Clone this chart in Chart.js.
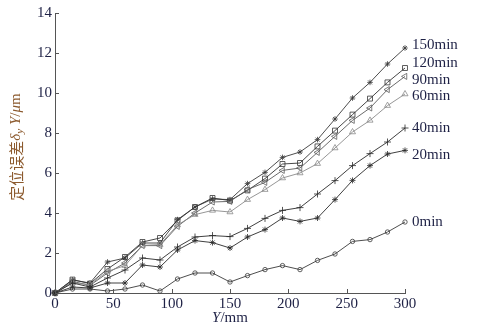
<!DOCTYPE html>
<html>
<head>
<meta charset="utf-8">
<script src="https://cdn.jsdelivr.net/npm/chart.js@4.4.0/dist/chart.umd.min.js"></script>
<style>
  html, body { margin: 0; padding: 0; background: #fff; }
  #wrap { width: 479px; height: 332px; }
</style>
</head>
<body>
<div id="wrap"><canvas id="myChart" width="479" height="332"></canvas></div>
<script>
// positions along Y (mm), one point every 15 mm
var xValues = [0, 15, 30, 45, 60, 75, 90, 105, 120, 135, 150, 165, 180, 195, 210, 225, 240, 255, 270, 285, 300];

var seriesNames = ["0min", "20min", "40min", "60min", "90min", "120min", "150min"];

var min0   = [0, 0.2, 0.2, 0.1, 0.2, 0.4, 0.1, 0.7, 1.0, 1.0, 0.55, 0.87, 1.17, 1.37, 1.17, 1.63, 1.95, 2.58, 2.67, 3.05, 3.55];
var min20  = [0, 0.3, 0.25, 0.5, 0.5, 1.4, 1.3, 2.15, 2.62, 2.52, 2.25, 2.8, 3.17, 3.75, 3.58, 3.75, 4.67, 5.63, 6.37, 6.95, 7.13];
var min40  = [0, 0.5, 0.3, 0.75, 1.15, 1.75, 1.65, 2.3, 2.8, 2.87, 2.82, 3.23, 3.73, 4.13, 4.27, 4.95, 5.62, 6.37, 6.97, 7.55, 8.25];
var min60  = [0, 0.5, 0.42, 1.08, 1.37, 2.38, 2.42, 3.4, 3.92, 4.13, 4.05, 4.67, 5.17, 5.75, 6.0, 6.47, 7.25, 8.05, 8.63, 9.37, 9.95];
var min90  = [0, 0.58, 0.38, 1.0, 1.5, 2.37, 2.37, 3.33, 4.0, 4.55, 4.58, 5.17, 5.53, 6.13, 6.25, 7.03, 7.83, 8.63, 9.25, 10.17, 10.83];
var min120 = [0, 0.67, 0.47, 1.2, 1.8, 2.55, 2.75, 3.63, 4.3, 4.75, 4.62, 5.13, 5.72, 6.45, 6.5, 7.33, 8.12, 8.92, 9.72, 10.53, 11.25];
var min150 = [0, 0.65, 0.5, 1.55, 1.75, 2.5, 2.5, 3.67, 4.3, 4.7, 4.67, 5.47, 6.03, 6.78, 7.05, 7.67, 8.7, 9.75, 10.53, 11.45, 12.25];

var xTicks = [0, 50, 100, 150, 200, 250, 300];
var yTicks = [0, 2, 4, 6, 8, 10, 12, 14];

var allSeries = [min0, min20, min40, min60, min90, min120, min150];

// look of each line
var lineColors = ["#3a3a3a", "#2a2a2a", "#2a2a2a", "#8a8a8a", "#5a5a5a", "#333333", "#3a3a3a"];
var markers = ["circle", "star", "cross", "triangle", "triangle", "rect", "star"];
var markerSize = [2.2, 3, 3.5, 3.5, 3.5, 3.5, 2.8];
var markerRot = [0, 0, 0, 0, -90, 0, 0];
// nudge of the end labels (px)
var labelNudge = [0, 5, 0, 2, 4, -5, -3];

var textColor = "#1e2145";
var serif = "'Liberation Serif', 'DejaVu Serif', serif";

var datasets = allSeries.map(function (vals, i) {
  return {
    label: seriesNames[i],
    data: xValues.map(function (x, j) { return { x: x, y: vals[j] }; }),
    borderColor: lineColors[i],
    borderWidth: 0.9,
    pointStyle: markers[i],
    pointRadius: markerSize[i],
    pointRotation: markerRot[i],
    pointBorderColor: lineColors[i],
    pointBorderWidth: 0.8,
    pointBackgroundColor: "rgba(255,255,255,0)",
    fill: false,
    tension: 0,
    clip: false
  };
});

// ticks pointing into the plot, axis titles and end labels
var decor = {
  id: "decor",
  afterDraw: function (chart) {
    var ctx = chart.ctx;
    var xs = chart.scales.x, ys = chart.scales.y;
    var area = chart.chartArea;
    ctx.save();
    ctx.strokeStyle = "#555";
    ctx.lineWidth = 1;
    yTicks.forEach(function (v) {
      var py = Math.round(ys.getPixelForValue(v)) + 0.5;
      ctx.beginPath();
      ctx.moveTo(area.left, py);
      ctx.lineTo(area.left + 4, py);
      ctx.stroke();
    });
    xTicks.forEach(function (v) {
      var px = Math.round(xs.getPixelForValue(v)) + 0.5;
      ctx.beginPath();
      ctx.moveTo(px, area.bottom);
      ctx.lineTo(px, area.bottom - 4);
      ctx.stroke();
    });

    // end labels
    ctx.fillStyle = textColor;
    ctx.font = "15px " + serif;
    ctx.textBaseline = "middle";
    ctx.textAlign = "left";
    allSeries.forEach(function (vals, i) {
      var last = vals.length - 1;
      var px = xs.getPixelForValue(xValues[last]) + 7;
      var py = ys.getPixelForValue(vals[last]) + labelNudge[i];
      ctx.fillText(seriesNames[i], px, py);
    });

    // x title: Y/mm
    var cx = (area.left + area.right) / 2;
    var ty = 318;
    ctx.textBaseline = "middle";
    ctx.font = "italic 15px " + serif;
    var w1 = ctx.measureText("Y").width;
    ctx.font = "15px " + serif;
    var w2 = ctx.measureText("/mm").width;
    var sx = cx - (w1 + w2) / 2;
    ctx.font = "italic 15px " + serif;
    ctx.fillText("Y", sx, ty);
    ctx.font = "15px " + serif;
    ctx.fillText("/mm", sx + w1, ty);

    // y title: 定位误差δy Y/μm
    ctx.translate(16, (area.top + area.bottom) / 2 - 6);
    ctx.rotate(-Math.PI / 2);
    ctx.fillStyle = "#8c5a2e";
    var parts = [
      { t: "定位误差", f: "15px 'Noto Sans CJK SC', sans-serif", dy: 0 },
      { t: "δ", f: "italic 15px " + serif, dy: 0 },
      { t: "y", f: "italic 11px " + serif, dy: 4 },
      { t: " Y", f: "italic 15px " + serif, dy: 0 },
      { t: "/", f: "15px " + serif, dy: 0 },
      { t: "μ", f: "italic 15px " + serif, dy: 0 },
      { t: "m", f: "15px " + serif, dy: 0 }
    ];
    var total = 0;
    parts.forEach(function (p) { ctx.font = p.f; p.w = ctx.measureText(p.t).width; total += p.w; });
    var pos = -total / 2;
    ctx.textAlign = "left";
    parts.forEach(function (p) {
      ctx.font = p.f;
      ctx.fillText(p.t, pos, p.dy);
      pos += p.w;
    });
    ctx.restore();
  }
};

new Chart("myChart", {
  type: "line",
  data: { datasets: datasets },
  options: {
    responsive: false,
    animation: false,
    layout: { padding: { top: 13, right: 74, left: 0, bottom: 0 } },
    plugins: {
      legend: { display: false },
      title: { display: false },
      tooltip: { enabled: false }
    },
    scales: {
      x: {
        type: "linear",
        min: 0,
        max: 300,
        afterBuildTicks: function (s) { s.ticks = xTicks.map(function (v) { return { value: v }; }); },
        afterFit: function (s) { s.height = 39; },
        grid: { display: false, drawTicks: false },
        border: { display: true, color: "#555", width: 1 },
        ticks: { color: textColor, font: { family: serif, size: 15 }, padding: 2, maxRotation: 0 }
      },
      y: {
        min: 0,
        max: 14,
        afterBuildTicks: function (s) { s.ticks = yTicks.map(function (v) { return { value: v }; }); },
        afterFit: function (s) { s.width = 55; },
        grid: { display: false, drawTicks: false },
        border: { display: true, color: "#555", width: 1 },
        ticks: { color: textColor, font: { family: serif, size: 15 }, padding: 3 }
      }
    }
  },
  plugins: [decor]
});
</script>
</body>
</html>
